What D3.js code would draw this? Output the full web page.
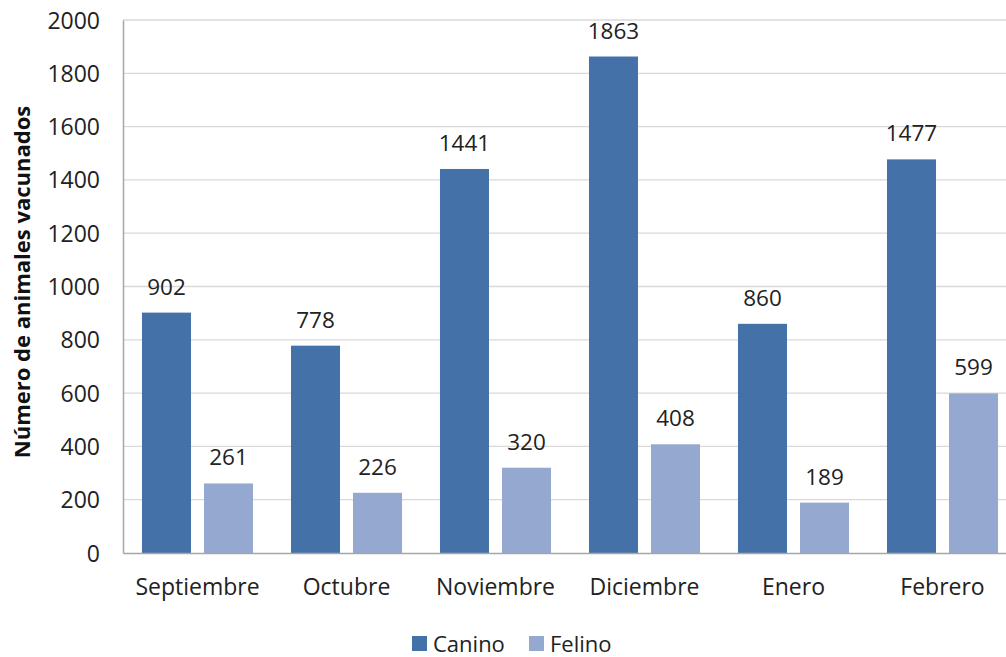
<!DOCTYPE html>
<html>
<head>
<meta charset="utf-8">
<script src="https://cdn.jsdelivr.net/npm/d3@7"></script>
<style>
	body { margin: 0; background: #fff; }
	svg { display: block; font-family: "Open Sans", sans-serif; }
	.tick text { fill: #222; font-size: 23px; font-family: "Open Sans", sans-serif; }
</style>
</head>
<body>
<svg id="chart" width="1006" height="657"></svg>
<script>
'use strict'

const months = ['Septiembre', 'Octubre', 'Noviembre', 'Diciembre', 'Enero', 'Febrero']
const series = ['Canino', 'Felino']
const canino = [902, 778, 1441, 1863, 860, 1477]
const felino = [261, 226, 320, 408, 189, 599]
const yTicks = [0, 200, 400, 600, 800, 1000, 1200, 1400, 1600, 1800, 2000]
const colors = ['#4472a8', '#95a9d0']

const rows = months.map((m, i) => ({ month: m, values: [canino[i], felino[i]] }))

const margins = { top: 20, left: 123 }
const chartWidth = 894
const chartHeight = 533

const svg = d3.select('#chart')
const g = svg.append('g')
	.attr('transform', 'translate(' + margins.left + ',' + margins.top + ')')

// scales
const x0 = d3.scaleBand().domain(months).range([0, chartWidth]).padding(0)
const x1 = d3.scaleBand().domain(series).range([0, x0.bandwidth()])
	.paddingInner(0.21).paddingOuter(0.306)
const y = d3.scaleLinear().domain([0, 2000]).range([chartHeight, 0])

// gridlines
g.append('g').selectAll('line')
	.data(yTicks.filter(t => t > 0))
	.enter().append('line')
	.attr('x1', 0).attr('x2', chartWidth)
	.attr('y1', d => y(d)).attr('y2', d => y(d))
	.attr('stroke', '#d9d9d9').attr('stroke-width', 1.3)

// bars
const groups = g.selectAll('.grp')
	.data(rows)
	.enter().append('g')
	.attr('transform', d => 'translate(' + x0(d.month) + ',0)')

groups.selectAll('rect')
	.data(d => d.values.map((v, i) => ({ key: series[i], value: v, i })))
	.enter().append('rect')
	.attr('x', d => x1(d.key))
	.attr('width', x1.bandwidth())
	.attr('y', d => y(d.value))
	.attr('height', d => chartHeight - y(d.value))
	.attr('fill', d => colors[d.i])

// value labels
groups.selectAll('text.val')
	.data(d => d.values.map((v, i) => ({ key: series[i], value: v })))
	.enter().append('text')
	.classed('val', true)
	.attr('x', d => x1(d.key) + x1.bandwidth() / 2)
	.attr('y', d => y(d.value) - 18)
	.attr('text-anchor', 'middle')
	.attr('font-size', 22.5)
	.attr('fill', '#222')
	.text(d => d.value)

// y axis
const yAxis = g.append('g')
	.call(d3.axisLeft(y).tickValues(yTicks).tickFormat(d3.format('d')).tickSize(0).tickPadding(23))
yAxis.select('.domain').attr('stroke', '#a6a6a6').attr('stroke-width', 1.5)
yAxis.selectAll('.tick text').attr('dy', '0.35em')

// x axis
const xAxis = g.append('g')
	.attr('transform', 'translate(0,' + chartHeight + ')')
	.call(d3.axisBottom(x0).tickSize(0).tickPadding(26))
xAxis.select('.domain').attr('stroke', '#a6a6a6').attr('stroke-width', 1.5)

// y axis title
svg.append('text')
	.attr('transform', 'translate(30,' + (margins.top + 262) + ') rotate(-90)')
	.attr('text-anchor', 'middle')
	.attr('font-size', 22)
	.attr('font-weight', 'bold')
	.attr('fill', '#111')
	.text('Número de animales vacunados')

// legend
const legend = svg.append('g').attr('transform', 'translate(412,636)')
const legendItem = legend.selectAll('g')
	.data(series)
	.enter().append('g')
	.attr('transform', (d, i) => 'translate(' + (i * 117) + ',0)')
legendItem.append('rect')
	.attr('width', 15).attr('height', 15)
	.attr('fill', (d, i) => colors[i])
legendItem.append('text')
	.attr('x', 21).attr('y', 8)
	.attr('dy', '0.35em')
	.attr('font-size', 22)
	.attr('fill', '#222')
	.text(d => d)
</script>
</body>
</html>
